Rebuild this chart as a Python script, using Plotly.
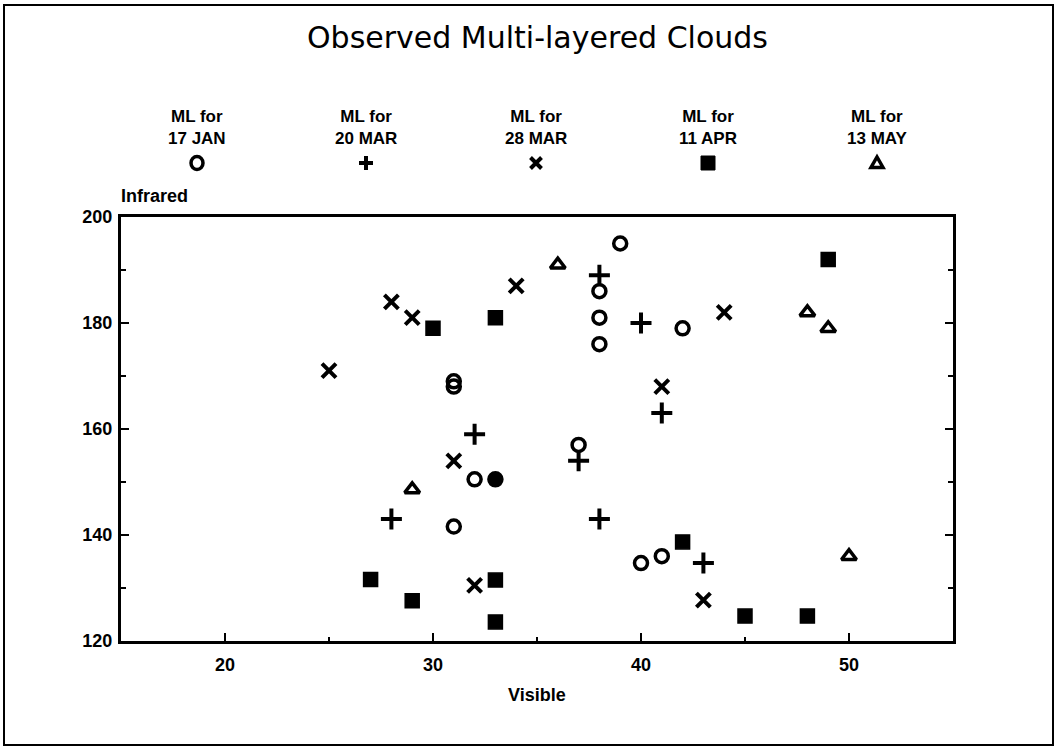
import plotly.graph_objects as go

# ---- data ----
series_names = ["ML for<br>17 JAN", "ML for<br>20 MAR", "ML for<br>28 MAR", "ML for<br>11 APR", "ML for<br>13 MAY"]

jan_x = [31, 31, 39, 38, 38, 38, 42, 32, 33, 31, 37, 40, 41]
jan_y = [168, 169, 195, 186, 181, 176, 179, 150.5, 150.5, 141.6, 157, 134.7, 136]

mar20_x = [38, 40, 41, 32, 28, 37, 38, 43]
mar20_y = [189, 180, 163, 159, 143, 154, 143, 134.7]

mar28_x = [25, 28, 29, 34, 44, 41, 31, 32, 43]
mar28_y = [171, 184, 181, 187, 182, 168, 154, 130.5, 127.7]

apr_x = [30, 33, 49, 27, 29, 33, 33, 42, 45, 48]
apr_y = [179, 181, 192, 131.6, 127.6, 131.5, 123.6, 138.7, 124.7, 124.7]

may_x = [36, 48, 49, 29, 50]
may_y = [191, 182, 179, 148.6, 136]

x_ticks = [20, 30, 40, 50]
y_ticks = [120, 140, 160, 180, 200]

# ---- figure ----
W, H = 1059, 749
L, R, T, B = 121, 106, 217, 108
PW, PH = W - L - R, H - T - B
X0, X1, Y0, Y1 = 15, 55, 120, 200

def px_x(p):
    return (p - L) / PW

def px_y(p):
    return (H - B - p) / PH

BOLD = dict(family="Liberation Sans, Arial, sans-serif", size=18, color="black", weight="bold")

fig = go.Figure()

jan_sym = ["circle-open"] * len(jan_x)
jan_sym[8] = "circle"  # solid-looking overlapped circle

styles = [
    dict(symbol=jan_sym, size=13, color="black", line=dict(width=3.5, color="black")),
    dict(symbol="cross-thin-open", size=15, color="black", line=dict(width=4, color="black")),
    dict(symbol="x-thin-open", size=14, color="black", line=dict(width=4, color="black")),
    dict(symbol="square", size=14, color="black", line=dict(width=1.5, color="black")),
    dict(symbol="triangle-up-open", size=13, color="black", line=dict(width=3.5, color="black")),
]
data = [(jan_x, jan_y), (mar20_x, mar20_y), (mar28_x, mar28_y), (apr_x, apr_y), (may_x, may_y)]

for (xs, ys), st, nm in zip(data, styles, series_names):
    fig.add_trace(go.Scatter(x=xs, y=ys, mode="markers", marker=st, name=nm,
                             showlegend=False, cliponaxis=False))

# legend header: text + symbol in columns above the plot
col_px = [197, 366, 536, 708, 877]
sym_py = 163
for i, nm in enumerate(series_names):
    fig.add_annotation(text=nm, x=px_x(col_px[i]), y=px_y(127.5), xref="paper", yref="paper",
                       xanchor="center", yanchor="middle", showarrow=False,
                       font=dict(family="Liberation Sans, Arial, sans-serif", size=17,
                                 color="black", weight="bold"))

# legend symbols drawn as pixel-sized shapes anchored at each column
sym_shapes = [
    dict(type="circle", x0=-6, x1=6, y0=-6.5, y1=6.5, line=dict(color="black", width=3.5)),
    dict(type="path", path="M-7,0 L7,0 M0,-7 L0,7", line=dict(color="black", width=4)),
    dict(type="path", path="M-5.5,-5.5 L5.5,5.5 M-5.5,5.5 L5.5,-5.5", line=dict(color="black", width=4)),
    dict(type="rect", x0=-7, x1=7, y0=-7, y1=7, line=dict(color="black", width=1), fillcolor="black"),
    dict(type="path", path="M-6,-4.5 L6,-4.5 L0,6 Z", line=dict(color="black", width=3.5)),
]
for i, shp in enumerate(sym_shapes):
    fig.add_shape(xref="paper", yref="paper", xsizemode="pixel", ysizemode="pixel",
                  xanchor=px_x(col_px[i]), yanchor=px_y(sym_py), **shp)

# title
fig.add_annotation(text="Observed Multi-layered Clouds", x=0.5, y=px_y(38), xref="paper", yref="paper",
                   xanchor="center", yanchor="middle", showarrow=False,
                   font=dict(family="DejaVu Sans, sans-serif", size=30, color="black"))
# axis titles
fig.add_annotation(text="Infrared", x=px_x(119), y=px_y(196), xref="paper", yref="paper",
                   xanchor="left", yanchor="middle", showarrow=False, font=BOLD)
fig.add_annotation(text="Visible", x=0.5, y=px_y(695), xref="paper", yref="paper",
                   xanchor="center", yanchor="middle", showarrow=False, font=BOLD)

# outer frame
fig.add_shape(type="rect", xref="paper", yref="paper",
              x0=px_x(4), x1=px_x(1053), y0=px_y(745), y1=px_y(5),
              line=dict(color="black", width=2), fillcolor="rgba(0,0,0,0)")

fig.update_layout(
    width=W, height=H,
    margin=dict(l=L, r=R, t=T, b=B, pad=0),
    paper_bgcolor="white", plot_bgcolor="white",
    showlegend=False,
    xaxis=dict(range=[X0, X1], tickmode="array", tickvals=x_ticks, ticktext=[str(v) for v in x_ticks],
               ticks="inside", ticklen=8, tickwidth=2, tickcolor="black",
               minor=dict(tickmode="linear", tick0=15, dtick=5, ticks="inside", ticklen=4, tickwidth=2, tickcolor="black"),
               showline=True, linewidth=3, linecolor="black", mirror=True,
               showgrid=False, zeroline=False, tickfont=BOLD, ticklabelstandoff=5),
    yaxis=dict(range=[Y0, Y1], tickmode="array", tickvals=y_ticks, ticktext=[str(v) for v in y_ticks],
               ticks="inside", ticklen=8, tickwidth=2, tickcolor="black",
               minor=dict(tickmode="linear", tick0=120, dtick=10, ticks="inside", ticklen=5, tickwidth=2, tickcolor="black"),
               showline=True, linewidth=3, linecolor="black", mirror="ticks",
               showgrid=False, zeroline=False, tickfont=BOLD, ticklabelstandoff=2),
)

fig.write_html("out.html")
